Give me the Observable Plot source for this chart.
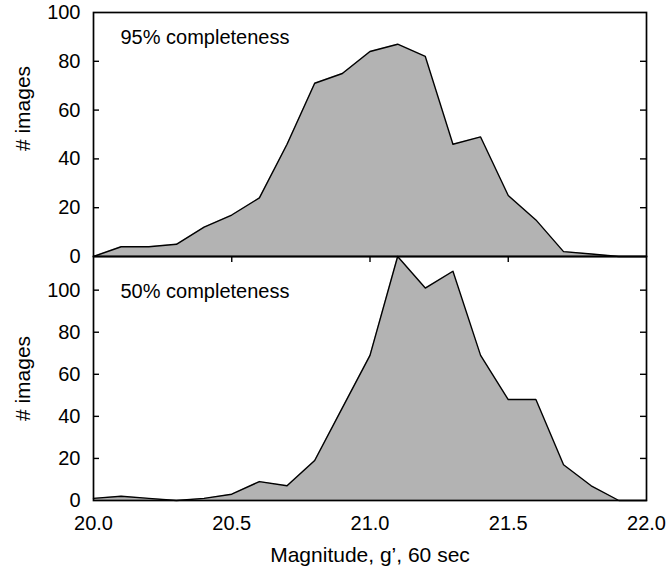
<!DOCTYPE html>
<html><head><meta charset="utf-8">
<script src="https://cdn.jsdelivr.net/npm/d3@7"></script>
<script src="https://cdn.jsdelivr.net/npm/@observablehq/plot@0.6"></script>
<style>
body{margin:0;background:#fff}
#wrap{position:relative;width:668px;height:569px;background:#fff}
#wrap svg{position:absolute;left:0}
</style>
</head><body><div id="wrap"></div>
<script>
const magnitudes = [20.0, 20.1, 20.2, 20.3, 20.4, 20.5, 20.6, 20.7, 20.8, 20.9, 21.0, 21.1, 21.2, 21.3, 21.4, 21.5, 21.6, 21.7, 21.8, 21.9, 22.0];
const count95 = [0, 4, 4, 5, 12, 17, 24, 46, 71, 75, 84, 87, 82, 46, 49, 25, 15, 2, 1, 0, 0];
const count50 = [1, 2, 1, 0, 1, 3, 9, 7, 19, 44, 69, 116, 101, 109, 69, 48, 48, 17, 7, 0, 0];
const xTickLabels = [20, 20.5, 21, 21.5, 22];
const xInnerTicks = [20.5, 21, 21.5];
const yTickLabels = [0, 20, 40, 60, 80, 100];
const yInnerTicksTop = [20, 40, 60, 80];
const yInnerTicksBottom = [20, 40, 60, 80, 100];
const labels = {top: "95% completeness", bottom: "50% completeness", y: "# images", x: "Magnitude, g\u2019, 60 sec"};

const W = 668, mL = 93, mR = 22, pw = W - mL - mR, ph = 244;
const fill = "#b3b3b3";
const font = "'Liberation Sans', Arial, Helvetica, sans-serif";
const style = {background: "none", overflow: "visible", fontFamily: font, fontSize: "20px", color: "black"};

const rows95 = magnitudes.map((m, i) => ({m, c: count95[i]}));
const rows50 = magnitudes.map((m, i) => ({m, c: count50[i]}));

const p1 = Plot.plot({
  width: W, height: 258, marginTop: 12, marginBottom: 2, marginLeft: mL, marginRight: mR,
  style,
  x: {domain: [20, 22], axis: null},
  y: {domain: [0, 100]},
  marks: [
    Plot.areaY(rows95, {x: "m", y: "c", fill}),
    Plot.lineY(rows95, {x: "m", y: "c", stroke: "black", strokeWidth: 1.4}),
    Plot.tickY(yInnerTicksTop, {y: d => d, stroke: "black", strokeWidth: 1.4, insetRight: pw - 6}),
    Plot.tickY(yInnerTicksTop, {y: d => d, stroke: "black", strokeWidth: 1.4, insetLeft: pw - 6}),
    Plot.axisY({ticks: yTickLabels, tickSize: 0, tickPadding: 13, tickFormat: d => String(d), label: null, fill: "black", fontSize: 20}),
    Plot.text([labels.top], {text: d => d, frameAnchor: "top-left", dx: 27, dy: 31, lineAnchor: "bottom", textAnchor: "start", fontSize: 20, fill: "black"}),
    Plot.text([labels.y], {text: d => d, frameAnchor: "left", textAnchor: "middle", rotate: -90, dx: -70, dy: -26, fontSize: 21, fill: "black"}),
    Plot.frame({stroke: "black", strokeWidth: 1.7})
  ]
});
p1.style.top = "0px";

const p2 = Plot.plot({
  width: W, height: 315, marginTop: 2, marginBottom: 69, marginLeft: mL, marginRight: mR,
  style,
  x: {domain: [20, 22]},
  y: {domain: [0, 116]},
  marks: [
    Plot.tickX(xInnerTicks, {x: d => d, stroke: "black", strokeWidth: 1.4, insetBottom: ph - 6}),
    Plot.areaY(rows50, {x: "m", y: "c", fill}),
    Plot.lineY(rows50, {x: "m", y: "c", stroke: "black", strokeWidth: 1.4}),
    Plot.tickY(yInnerTicksBottom, {y: d => d, stroke: "black", strokeWidth: 1.4, insetRight: pw - 6}),
    Plot.tickY(yInnerTicksBottom, {y: d => d, stroke: "black", strokeWidth: 1.4, insetLeft: pw - 6}),
    Plot.axisY({ticks: yTickLabels, tickSize: 0, tickPadding: 13, tickFormat: d => String(d), label: null, fill: "black", fontSize: 20}),
    Plot.axisX({ticks: xTickLabels, tickSize: 0, tickPadding: 15, tickFormat: d3.format(".1f"), label: null, fill: "black", fontSize: 20}),
    Plot.text([labels.bottom], {text: d => d, frameAnchor: "top-left", dx: 27, dy: 41, lineAnchor: "bottom", textAnchor: "start", fontSize: 20, fill: "black"}),
    Plot.text([labels.y], {text: d => d, frameAnchor: "left", textAnchor: "middle", rotate: -90, dx: -70, fontSize: 21, fill: "black"}),
    Plot.text([labels.x], {text: d => d, frameAnchor: "bottom", textAnchor: "middle", dy: 61, lineAnchor: "bottom", fontSize: 21, fill: "black"}),
    Plot.frame({stroke: "black", strokeWidth: 1.7})
  ]
});
p2.style.top = "254px";

const wrap = document.getElementById("wrap");
wrap.appendChild(p1);
wrap.appendChild(p2);
</script>
</body></html>
